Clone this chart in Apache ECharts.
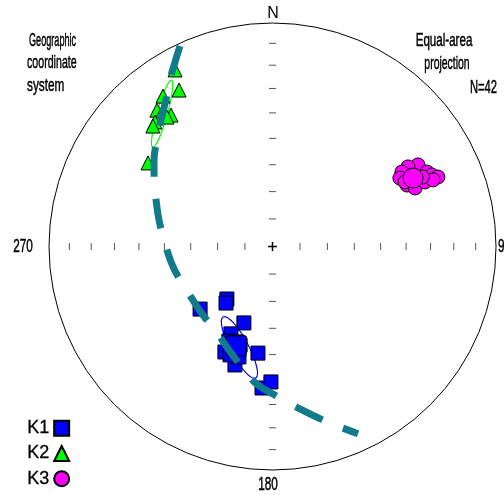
<!DOCTYPE html>
<html><head><meta charset="utf-8">
<script src="https://cdn.jsdelivr.net/npm/echarts@6/dist/echarts.min.js"></script>
<style>html,body{margin:0;padding:0;background:#fff}#c{width:504px;height:495px}</style>
</head><body><div id="c"></div>
<script>
// Equal-area projected coordinates, in units of the primitive circle radius
const seriesNames = ['K1', 'K2', 'K3'];
const k1Points = [
  [-0.324,-0.280],[-0.204,-0.235],[-0.208,-0.253],[-0.128,-0.342],[-0.186,-0.391],
  [-0.195,-0.423],[-0.213,-0.472],[-0.177,-0.441],[-0.145,-0.441],[-0.163,-0.468],
  [-0.159,-0.427],[-0.168,-0.530],[-0.065,-0.477],[-0.047,-0.633],[-0.007,-0.606],
  [-0.150,-0.494],[-0.190,-0.485]
];
const k1Mean = [-0.163,-0.445];
const k2Points = [
  [-0.436,0.790],[-0.418,0.700],[-0.490,0.673],[-0.517,0.610],[-0.490,0.606],
  [-0.454,0.588],[-0.526,0.557],[-0.535,0.539],[-0.557,0.374],[-0.472,0.579]
];
const k3Points = [
  [0.651,0.365],[0.606,0.356],[0.579,0.333],[0.691,0.333],[0.713,0.320],
  [0.740,0.311],[0.570,0.306],[0.647,0.289],[0.602,0.275],[0.638,0.262],
  [0.682,0.289],[0.718,0.298],[0.593,0.289],[0.671,0.311]
];
const k3Mean = [0.629,0.306];
// confidence ellipses: [centerX, centerY, semiMajor, semiMinor, tiltDeg]
const k1Ellipse = [-0.148,-0.452,0.155,0.040,28];
const k2Ellipse = [-0.494,0.593,0.157,0.023,-15.6];
// great circle
const greatCircle = [
  [-0.414,0.897],[-0.436,0.826],[-0.459,0.745],[-0.477,0.655],[-0.499,0.566],
  [-0.517,0.477],[-0.530,0.387],[-0.530,0.298],[-0.521,0.208],[-0.508,0.119],
  [-0.485,0.029],[-0.454,-0.069],[-0.414,-0.150],[-0.365,-0.226],[-0.311,-0.307],
  [-0.257,-0.374],[-0.195,-0.463],[-0.123,-0.557],[-0.065,-0.620],[0.025,-0.673],
  [0.123,-0.727],[0.235,-0.781],[0.324,-0.816],[0.383,-0.838]
];
const tickDips = [10,20,30,40,50,60,70,80];
const compassLabels = ['N','90','180','270'];

const FONT = 'Liberation Sans, Arial, sans-serif';
const chart = echarts.init(document.getElementById('c'));

function ellipseSeries(data, color) {
  return {
    type: 'custom', silent: true, z: 3, clip: false,
    data: [data],
    renderItem: (params, api) => {
      const c = api.coord([api.value(0), api.value(1)]);
      const a = api.size([api.value(2), api.value(2)])[0];
      const b = api.size([api.value(3), api.value(3)])[0];
      return {
        type: 'ellipse', x: c[0], y: c[1], rotation: api.value(4) * Math.PI / 180,
        shape: {cx: 0, cy: 0, rx: b, ry: a},
        style: {fill: 'none', stroke: color, lineWidth: 1.2}
      };
    }
  };
}

function txt(text, x, y, sx, align, size, bold) {
  return {type: 'text', x: x, y: y, scaleX: sx, z: 20,
    style: {text: text, fill: '#000', font: (size || 19) + 'px ' + FONT,
      stroke: bold === false ? 'none' : '#000', lineWidth: 0.5,
      textAlign: align, textVerticalAlign: 'middle', align: align, verticalAlign: 'middle'}};
}

const option = {
  animation: false,
  backgroundColor: '#fff',
  grid: {left: 49, top: 23, width: 447, height: 447},
  xAxis: {type: 'value', min: -1, max: 1, show: false},
  yAxis: {type: 'value', min: -1, max: 1, show: false},
  legend: {
    data: seriesNames, orient: 'vertical', left: 22, top: 414, align: 'right',
    itemWidth: 15, itemHeight: 15, itemGap: 7,
    textStyle: {fontSize: 18, color: '#000', fontFamily: FONT, textBorderColor: '#000', textBorderWidth: 0.3}
  },
  graphic: [
    txt('Geographic', 29, 41, 0.48, 'left'),
    txt('coordinate', 27, 63, 0.56, 'left'),
    txt('system', 27, 86, 0.62, 'left'),
    txt('Equal-area', 444, 41, 0.61, 'center'),
    txt('projection', 447, 64, 0.55, 'center'),
    txt('N=42', 497, 88, 0.59, 'right'),
    txt(compassLabels[0], 273, 14, 1, 'center', 16, false),
    txt(compassLabels[1], 498, 247, 0.62, 'left'),
    txt(compassLabels[2], 268, 485, 0.62, 'center'),
    txt(compassLabels[3], 23, 247, 0.62, 'center')
  ],
  series: [
    {
      type: 'custom', silent: true, z: 1, clip: false,
      data: [[0, 0]],
      renderItem: (params, api) => {
        const c = api.coord([0, 0]);
        const R = api.size([1, 1])[0];
        const ch = [{type: 'circle', shape: {cx: c[0], cy: c[1], r: R},
          style: {fill: 'none', stroke: '#000', lineWidth: 1}}];
        tickDips.forEach(d => {
          const rr = Math.SQRT2 * Math.sin((90 - d) / 2 * Math.PI / 180) * R;
          [-1, 1].forEach(s => {
            ch.push({type: 'line', shape: {x1: c[0] + s * rr, y1: c[1] - 3.5, x2: c[0] + s * rr, y2: c[1] + 3.5},
              style: {stroke: '#555', lineWidth: 1}});
            ch.push({type: 'line', shape: {x1: c[0] - 3.5, y1: c[1] + s * rr, x2: c[0] + 3.5, y2: c[1] + s * rr},
              style: {stroke: '#555', lineWidth: 1}});
          });
        });
        ch.push({type: 'line', shape: {x1: c[0] - 4.5, y1: c[1], x2: c[0] + 4.5, y2: c[1]}, style: {stroke: '#000', lineWidth: 1.5}});
        ch.push({type: 'line', shape: {x1: c[0], y1: c[1] - 4.5, x2: c[0], y2: c[1] + 4.5}, style: {stroke: '#000', lineWidth: 1.5}});
        return {type: 'group', children: ch};
      }
    },
    ellipseSeries(k1Ellipse, '#0000ff'),
    ellipseSeries(k2Ellipse, '#00ff00'),
    {
      name: 'K1', type: 'scatter', symbol: 'rect', symbolSize: 14, z: 4,
      itemStyle: {color: '#0000ff', borderColor: '#000', borderWidth: 1, opacity: 1},
      data: k1Points.concat([{value: k1Mean, symbolSize: 20}])
    },
    {
      name: 'K2', type: 'scatter', symbol: 'triangle', symbolSize: 14, z: 4,
      itemStyle: {color: '#00ff00', borderColor: '#000', borderWidth: 1, opacity: 1},
      data: k2Points
    },
    {
      name: 'K3', type: 'scatter', symbol: 'circle', symbolSize: 14, z: 4,
      itemStyle: {color: '#ff00ff', borderColor: '#000', borderWidth: 1, opacity: 1},
      data: k3Points.concat([{value: k3Mean, symbolSize: 20}])
    },
    {
      type: 'line', z: 6, silent: true, showSymbol: false, smooth: 0.4,
      lineStyle: {color: '#117a8b', width: 7, type: [30, 22], cap: 'butt'},
      data: greatCircle
    }
  ]
};
chart.setOption(option);
</script>
</body></html>
